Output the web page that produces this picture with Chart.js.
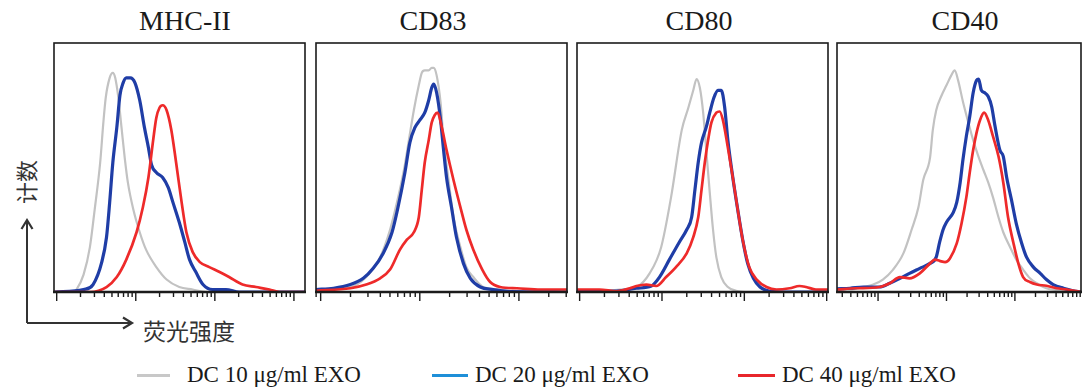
<!DOCTYPE html>
<html>
<head>
<meta charset="utf-8">
<script src="https://cdn.jsdelivr.net/npm/chart.js@4"></script>
<style>
  body { margin: 0; background: #fff; width: 1083px; height: 389px; position: relative; overflow: hidden; font-family: "Liberation Serif", "Times New Roman", serif; color: #1a1a1a; }
  canvas { position: absolute; }
  .title { position: absolute; top: 7px; width: 200px; font-size: 28px; line-height: 28px; text-align: center; }
  .cjk { position: absolute; font-family: "Noto Sans CJK SC", sans-serif; color: #333; white-space: nowrap; }
  .leg { position: absolute; top: 363px; font-size: 23px; line-height: 23px; white-space: nowrap; }
  .sw { position: absolute; top: 374px; height: 3px; }
  svg { position: absolute; left: 0; top: 0; }
</style>
</head>
<body>
<svg width="1083" height="389">
  <path d="M27 323 V221 M27 323 H131" stroke="#333" stroke-width="2" fill="none"/>
  <path d="M21.5 229 L27 220 L32.5 229 M123 317.5 L132 323 L123 328.5" stroke="#333" stroke-width="2.2" fill="none"/>
</svg>
<div class="cjk" style="left:25px;top:182px;font-size:22px;transform:translate(-50%,-50%) rotate(-90deg);">计数</div>
<div class="cjk" style="left:143px;top:319px;font-size:23px;line-height:23px;">荧光强度</div>

<div class="sw" style="left:137px;width:33px;background:#c8c8c8;"></div>
<div class="leg" style="left:187px;">DC 10 μg/ml EXO</div>
<div class="sw" style="left:432px;width:36px;background:#1e8fd8;"></div>
<div class="leg" style="left:475px;">DC 20 μg/ml EXO</div>
<div class="sw" style="left:738px;width:37px;background:#e8262b;"></div>
<div class="leg" style="left:782px;">DC 40 μg/ml EXO</div>

<script>
const categories = ['MHC-II', 'CD83', 'CD80', 'CD40'];
const seriesLabels = ['DC 10 μg/ml EXO', 'DC 20 μg/ml EXO', 'DC 40 μg/ml EXO'];

// fluorescence axis range of each panel, log10 units
const logMin = [-0.034, -0.047, -0.032, -0.6];
const logMax = [3.14, 2.485, 3.016, 2.966];

// histograms: [log10 fluorescence, % of max count]
const mhc10 = [[-0.03,0],[0.21,0],[0.25,1],[0.34,7],[0.42,18],[0.48,33],[0.55,52],[0.59,68],[0.62,78],[0.67,86],[0.71,88],[0.74,86],[0.78,78],[0.82,66],[0.86,54],[0.90,44],[0.97,33],[1.05,24],[1.13,17],[1.26,10],[1.39,5],[1.55,2],[1.72,1],[1.89,0],[3.14,0]];
const mhc20 = [[-0.03,0],[0.34,1],[0.46,3],[0.57,12],[0.63,22],[0.67,36],[0.71,52],[0.76,66],[0.80,79],[0.84,84],[0.88,86],[0.93,86],[0.99,84],[1.05,77],[1.11,66],[1.16,58],[1.20,51],[1.26,48],[1.34,46],[1.41,42],[1.47,36],[1.55,28],[1.62,20],[1.68,13],[1.76,8],[1.85,3],[1.97,1],[2.14,1],[2.31,0],[3.14,0]];
const mhc40 = [[-0.03,0],[0.42,0],[0.63,2],[0.76,6],[0.88,13],[1.01,24],[1.09,34],[1.16,46],[1.22,61],[1.26,70],[1.30,74],[1.34,75],[1.39,73],[1.45,65],[1.51,52],[1.58,36],[1.64,24],[1.72,16],[1.81,12],[1.93,10],[2.06,8],[2.18,6],[2.35,3],[2.52,2],[2.69,1],[2.82,0],[3.14,0]];

const cd83_10 = [[-0.05,1],[0.30,2],[0.46,6],[0.60,14],[0.70,25],[0.77,36],[0.84,49],[0.89,61],[0.94,73],[0.99,83],[1.02,88],[1.05,89],[1.09,89],[1.12,90],[1.14,90],[1.17,87],[1.21,76],[1.24,61],[1.29,45],[1.34,30],[1.41,18],[1.47,10],[1.54,6],[1.64,2],[1.81,1],[1.98,0],[2.49,0]];
const cd83_20 = [[-0.05,1],[0.13,1.5],[0.30,3],[0.43,5.5],[0.53,9.5],[0.63,15.5],[0.72,24],[0.78,34],[0.85,48],[0.90,60],[0.95,66],[1.00,69],[1.05,72],[1.09,77],[1.12,82],[1.14,83.5],[1.17,80],[1.21,69],[1.24,57],[1.27,46],[1.32,34],[1.37,22],[1.44,11.5],[1.51,5.5],[1.61,2],[1.74,1],[1.88,0.3],[2.49,0]];
const cd83_40 = [[-0.05,0.5],[0.30,1.5],[0.46,3],[0.60,5.5],[0.70,9],[0.80,17],[0.87,21],[0.94,24],[0.99,30],[1.02,41],[1.05,52],[1.09,61],[1.12,68],[1.15,71],[1.18,72],[1.22,66.5],[1.27,57],[1.34,45],[1.41,34],[1.47,25],[1.54,17],[1.63,9],[1.71,4],[1.81,2],[1.98,1.5],[2.22,1],[2.49,1]];

const cd80_10 = [[-0.03,0],[0.49,1],[0.69,2],[0.85,7.5],[0.99,18],[1.11,38],[1.24,65],[1.32,74],[1.38,81],[1.42,85.5],[1.46,82],[1.50,72],[1.54,56],[1.58,40],[1.62,25],[1.66,14],[1.72,6],[1.80,2],[1.90,0.5],[2.06,0],[3.02,0]];
const cd80_20 = [[-0.03,0.5],[0.28,0.3],[0.49,0.5],[0.69,1.5],[0.87,2.4],[0.97,6],[1.09,13],[1.21,20],[1.30,25],[1.36,30],[1.40,41],[1.44,52],[1.48,60],[1.54,66.5],[1.58,72],[1.63,78],[1.68,81],[1.72,81],[1.76,74.5],[1.80,61],[1.86,46],[1.92,33],[1.98,21],[2.04,11.5],[2.11,5.5],[2.19,2],[2.31,0.3],[2.51,0],[3.02,0]];
const cd80_40 = [[-0.03,1],[0.24,1],[0.45,0.3],[0.61,1.5],[0.69,2.4],[0.81,3],[0.93,2.4],[1.05,6],[1.17,10],[1.30,15.5],[1.38,22],[1.44,30],[1.48,41],[1.52,52],[1.56,61],[1.60,68],[1.66,72],[1.70,72.5],[1.74,69],[1.80,58],[1.86,46],[1.92,33],[1.98,21],[2.06,10],[2.15,5],[2.27,2],[2.39,1],[2.55,1.5],[2.67,2.4],[2.75,2],[2.87,1],[3.02,1]];

const cd40_10 = [[-0.60,1],[-0.41,1],[-0.22,2],[-0.07,3],[0.07,5],[0.22,9],[0.37,15.5],[0.49,25],[0.59,34],[0.66,45],[0.76,54],[0.80,65],[0.85,73],[0.93,79],[1.00,83],[1.07,87],[1.12,89],[1.17,85],[1.24,76.5],[1.32,68],[1.39,61],[1.46,55],[1.54,49],[1.61,44],[1.68,38],[1.76,30],[1.83,24],[1.93,18],[2.02,13],[2.12,9],[2.22,5.5],[2.32,3.5],[2.46,1.5],[2.71,0.5],[2.97,0]];
const cd40_20 = [[-0.60,1.3],[-0.41,1.5],[-0.22,2],[0.02,2],[0.17,3.5],[0.32,5.5],[0.46,7.5],[0.61,9.5],[0.76,11.5],[0.85,14],[0.90,20],[0.95,25],[1.00,28],[1.10,32],[1.15,36],[1.20,44],[1.24,53],[1.29,62.5],[1.34,70.5],[1.39,80],[1.44,85],[1.47,85.5],[1.51,81],[1.56,80],[1.61,78.5],[1.66,74.5],[1.71,66.5],[1.78,57],[1.83,54.5],[1.88,46],[1.95,37],[2.02,27.5],[2.10,19.5],[2.17,14],[2.27,10],[2.37,7.5],[2.46,5],[2.56,3],[2.71,1.5],[2.85,0.5],[2.97,0]];
const cd40_40 = [[-0.60,1],[-0.32,1.5],[0.02,2],[0.17,3.5],[0.32,6],[0.46,5.5],[0.61,7.5],[0.76,11.5],[0.83,13],[0.90,12.5],[0.98,12],[1.05,13.5],[1.15,19.5],[1.22,27.5],[1.29,38],[1.34,48],[1.39,57],[1.44,64],[1.49,69],[1.55,72],[1.61,69],[1.68,62.5],[1.76,54.5],[1.83,44],[1.90,30],[1.98,19.5],[2.05,11.5],[2.12,6],[2.22,4],[2.32,3],[2.46,2.5],[2.61,1.5],[2.76,1],[2.97,0]];

const panelSeries = [
  [mhc10, mhc20, mhc40],
  [cd83_10, cd83_20, cd83_40],
  [cd80_10, cd80_20, cd80_40],
  [cd40_10, cd40_20, cd40_40]
];

// layout
const panelLeft = [54, 316, 577, 837];
const panelRight = [305, 567, 828, 1081];
const panelTop = 43, panelBottom = 292;
const titleCenter = [185, 433, 699, 965];
const PAD = 2, TICK_SPACE = 14;

const lineColors = ['#c2c2c2', '#1f3da6', '#ee2a2a'];
const lineWidths = [2.2, 3.2, 2.7];

// box + log ticks under the bottom edge
const framePlugin = {
  id: 'frame',
  afterDraw(chart) {
    const { ctx, chartArea: a } = chart;
    const x = chart.scales.x;
    ctx.save();
    ctx.strokeStyle = '#1b1b1b';
    ctx.lineWidth = 1.6;
    ctx.strokeRect(a.left, a.top, a.right - a.left, a.bottom - a.top);
    ctx.lineWidth = 2.6;
    ctx.beginPath();
    ctx.moveTo(a.left - 1, a.bottom);
    ctx.lineTo(a.right + 1, a.bottom);
    ctx.stroke();
    ctx.lineWidth = 1.4;
    for (let d = Math.floor(x.min); d <= Math.ceil(x.max); d++) {
      for (let k = 1; k <= 9; k++) {
        const v = d + Math.log10(k);
        if (v < x.min - 0.01 || v > x.max + 0.01) continue;
        const px = x.getPixelForValue(v);
        ctx.beginPath();
        ctx.moveTo(px, a.bottom);
        ctx.lineTo(px, a.bottom + (k === 1 ? 9 : 5));
        ctx.stroke();
      }
    }
    ctx.restore();
  }
};

categories.forEach((name, i) => {
  const t = document.createElement('div');
  t.className = 'title';
  t.style.left = (titleCenter[i] - 100) + 'px';
  t.textContent = name;
  document.body.appendChild(t);

  const cv = document.createElement('canvas');
  const w = panelRight[i] - panelLeft[i] + 2 * PAD;
  const h = panelBottom - panelTop + PAD + TICK_SPACE;
  cv.width = w;
  cv.height = h;
  cv.style.left = (panelLeft[i] - PAD) + 'px';
  cv.style.top = (panelTop - PAD) + 'px';
  cv.style.width = w + 'px';
  cv.style.height = h + 'px';
  document.body.appendChild(cv);

  new Chart(cv, {
    type: 'line',
    data: {
      datasets: panelSeries[i].map((pts, j) => ({
        label: seriesLabels[j],
        data: pts.map(p => ({ x: p[0], y: p[1] })),
        borderColor: lineColors[j],
        borderWidth: lineWidths[j],
        pointRadius: 0,
        fill: false,
        cubicInterpolationMode: 'monotone',
        order: 2 - j
      }))
    },
    options: {
      responsive: false,
      animation: false,
      devicePixelRatio: 1,
      layout: { padding: { left: PAD, right: PAD, top: PAD, bottom: TICK_SPACE } },
      plugins: { legend: { display: false }, tooltip: { enabled: false } },
      scales: {
        x: { type: 'linear', min: logMin[i], max: logMax[i], display: false },
        y: { min: 0, max: 100, display: false }
      }
    },
    plugins: [framePlugin]
  });
});
</script>
</body>
</html>
